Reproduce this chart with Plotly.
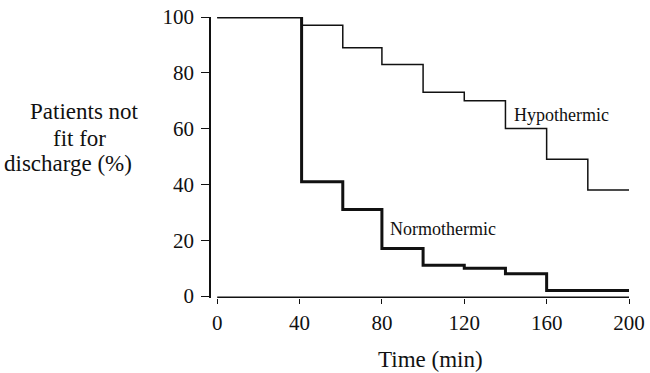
import plotly.graph_objects as go

# ---- data ----
time_hypo = [0, 41, 61, 80, 100, 120, 140, 160, 180, 200]
pct_hypo = [100, 97, 89, 83, 73, 70, 60, 49, 38, 38]

time_norm = [0, 41, 61, 80, 100, 120, 140, 160, 200]
pct_norm = [100, 41, 31, 17, 11, 10, 8, 2, 2]

x_ticks = [0, 40, 80, 120, 160, 200]
y_ticks = [0, 20, 40, 60, 80, 100]

ylabel_lines = ["Patients not", "fit for", "discharge (%)"]
xlabel = "Time (min)"

FONT = "Liberation Serif"
INK = "#111111"

# layout geometry (pixels)
W, H = 650, 373
L, R, T, B = 211, 21, 17, 75
PW, PH = W - L - R, H - T - B

def px_to_paper_x(px):
    return (px - L) / PW

def px_to_paper_y(py):
    return 1 - (py - T) / PH

fig = go.Figure()
fig.add_trace(go.Scatter(
    x=time_hypo, y=pct_hypo, mode="lines", line_shape="hv",
    line=dict(color=INK, width=1.5), name="Hypothermic", showlegend=False,
    hoverinfo="skip"))
fig.add_trace(go.Scatter(
    x=time_norm, y=pct_norm, mode="lines", line_shape="hv",
    line=dict(color=INK, width=3), name="Normothermic", showlegend=False,
    hoverinfo="skip"))

# separate x-axis baseline (offset from the y-axis, as in the original)
fig.add_shape(type="line", xref="x", yref="y", x0=x_ticks[0], x1=x_ticks[-1],
              y0=-0.4, y1=-0.4, line=dict(color=INK, width=1.5))

fig.add_annotation(x=143, y=65, xref="x", yref="y", text="Hypothermic",
                   showarrow=False, xanchor="left", yanchor="middle",
                   font=dict(family=FONT, size=18, color=INK))
fig.add_annotation(x=83, y=24, xref="x", yref="y", text="Normothermic",
                   showarrow=False, xanchor="left", yanchor="middle",
                   font=dict(family=FONT, size=18, color=INK))

for txt, cx, cy in zip(ylabel_lines, [84, 79, 68], [111, 138, 163]):
    fig.add_annotation(x=px_to_paper_x(cx), y=px_to_paper_y(cy), xref="paper",
                       yref="paper", text=txt, showarrow=False,
                       xanchor="center", yanchor="middle",
                       font=dict(family=FONT, size=23, color=INK))

fig.add_annotation(x=px_to_paper_x(430), y=px_to_paper_y(359), xref="paper",
                   yref="paper", text=xlabel, showarrow=False,
                   xanchor="center", yanchor="middle",
                   font=dict(family=FONT, size=23, color=INK))

fig.update_xaxes(range=[-3, 200], tickvals=x_ticks, ticktext=[str(v) for v in x_ticks],
                 showgrid=False, zeroline=False, showline=False, automargin=False,
                 ticks="outside", ticklen=5, tickwidth=1.2, tickcolor=INK,
                 ticklabelstandoff=1,
                 tickfont=dict(family=FONT, size=21, color=INK))
fig.update_yaxes(range=[-0.7, 100], tickvals=y_ticks, ticktext=[str(v) for v in y_ticks],
                 showgrid=False, zeroline=False, showline=True, linecolor=INK,
                 automargin=False,
                 linewidth=1.5, ticks="outside", ticklen=8, tickwidth=1.2,
                 tickcolor=INK, ticklabelstandoff=3,
                 tickfont=dict(family=FONT, size=21, color=INK))

fig.update_layout(width=W, height=H, margin=dict(l=L, r=R, t=T, b=B),
                  paper_bgcolor="white", plot_bgcolor="white",
                  showlegend=False)

fig.write_html("out.html", config={"displayModeBar": False},
               post_script="document.body.style.margin='0';document.body.style.padding='0';")
